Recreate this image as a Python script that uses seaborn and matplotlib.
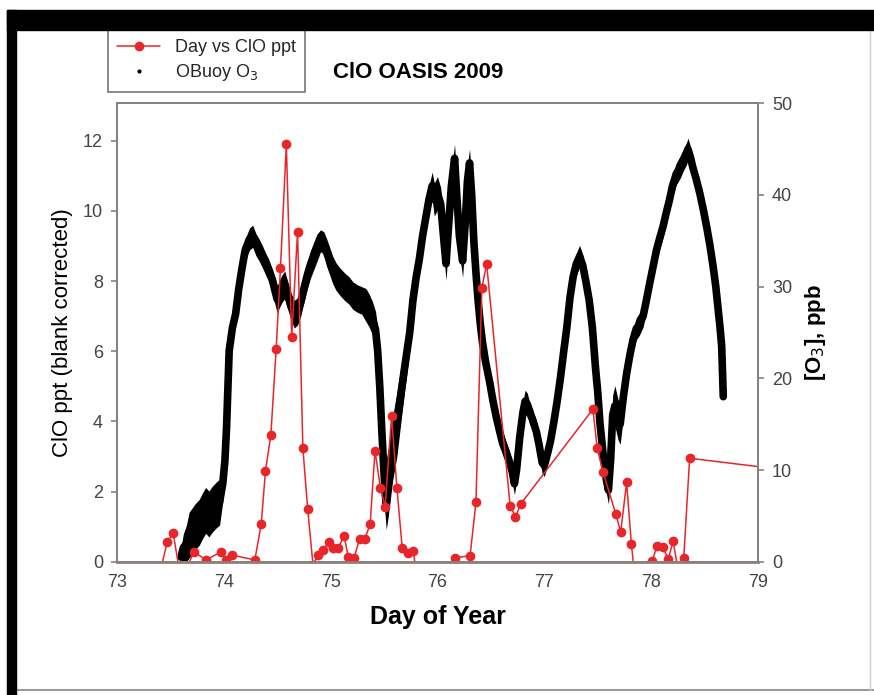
import matplotlib
matplotlib.use("Agg")
import matplotlib.pyplot as plt
from matplotlib.lines import Line2D
from matplotlib.patches import Rectangle
import seaborn as sns
import pandas as pd

# ---- ClO (red) series: day of year, ppt (blank corrected) ----
clo_day = [73.41, 73.47, 73.525, 73.60, 73.72, 73.83, 73.97, 74.02, 74.075, 74.29,
           74.35, 74.39, 74.44, 74.49, 74.53, 74.585, 74.635, 74.69, 74.74, 74.785,
           74.835, 74.88, 74.925, 74.98, 75.02, 75.07, 75.125, 75.165, 75.22, 75.27,
           75.32, 75.37, 75.415, 75.465, 75.51, 75.57, 75.62, 75.67, 75.72, 75.775,
           75.90, 76.16, 76.305, 76.36, 76.415, 76.46, 76.68, 76.73, 76.78, 77.455,
           77.495, 77.55, 77.67, 77.715, 77.77, 77.815, 77.90, 78.01, 78.055, 78.11,
           78.16, 78.205, 78.25, 78.305, 78.36, 79.30]
clo_ppt = [-0.2, 0.55, 0.83, -0.55, 0.29, 0.05, 0.27, 0.05, 0.19, 0.05,
           1.07, 2.60, 3.61, 6.07, 8.37, 11.9, 6.40, 9.40, 3.23, 1.50,
           -0.1, 0.19, 0.33, 0.55, 0.38, 0.38, 0.74, 0.14, 0.11, 0.65,
           0.65, 1.08, 3.17, 2.11, 1.57, 4.16, 2.11, 0.38, 0.24, 0.31,
           -3.0, 0.11, 0.17, 1.69, 7.80, 8.49, 1.59, 1.28, 1.65, 4.35,
           3.23, 2.55, 1.35, 0.84, 2.26, 0.50, -2.0, 0.02, 0.45, 0.41,
           0.07, 0.59, -0.2, 0.11, 2.95, 2.60]

# ---- OBuoy O3 (black) series: day of year, ppb, and half-width of the scatter band ----
o3_day = [73.60, 73.62, 73.65, 73.675, 73.70, 73.73, 73.77, 73.80, 73.83, 73.86,
          73.89, 73.93, 73.96, 73.99, 74.01, 74.025, 74.035, 74.05, 74.08, 74.11,
          74.14, 74.17, 74.20, 74.24, 74.27, 74.30, 74.33, 74.36, 74.39, 74.42,
          74.455, 74.48, 74.50, 74.52, 74.545, 74.57, 74.60, 74.63, 74.66, 74.69,
          74.72, 74.75, 74.78, 74.81, 74.84, 74.87, 74.905, 74.935, 74.96, 74.99,
          75.02, 75.05, 75.09, 75.13, 75.17, 75.21, 75.25, 75.29, 75.33, 75.36,
          75.39, 75.42, 75.44, 75.46, 75.48, 75.50, 75.52, 75.54, 75.56, 75.59,
          75.62, 75.66, 75.70, 75.74, 75.77, 75.80, 75.83, 75.86, 75.89, 75.92,
          75.95, 75.97, 76.00, 76.03, 76.06, 76.08, 76.10, 76.13, 76.16, 76.18,
          76.205, 76.235, 76.26, 76.28, 76.30, 76.32, 76.34, 76.36, 76.38, 76.40,
          76.42, 76.45, 76.49, 76.52, 76.55, 76.58, 76.61, 76.64, 76.67, 76.70,
          76.72, 76.74, 76.77, 76.80, 76.82, 76.84, 76.86, 76.89, 76.925, 76.95,
          76.98, 77.00, 77.03, 77.06, 77.09, 77.12, 77.15, 77.18, 77.21, 77.24,
          77.27, 77.30, 77.33, 77.36, 77.39, 77.42, 77.45, 77.48, 77.50, 77.52,
          77.55, 77.58, 77.60, 77.62, 77.64, 77.66, 77.69, 77.71, 77.74, 77.77,
          77.80, 77.83, 77.86, 77.89, 77.925, 77.955, 77.985, 78.02, 78.05, 78.08,
          78.11, 78.14, 78.17, 78.20, 78.235, 78.27, 78.30, 78.33, 78.345, 78.37,
          78.39, 78.42, 78.455, 78.49, 78.52, 78.55, 78.58, 78.605, 78.625, 78.645,
          78.66, 78.675]
o3_ppb = [0.5, 1.5, 2.0, 2.9, 3.3, 3.8, 4.3, 5.0, 5.6, 5.2,
          5.7, 6.2, 6.5, 8.5, 11.0, 14.5, 18.0, 23.0, 25.5, 27.0,
          29.8, 32.0, 34.0, 35.2, 35.5, 34.6, 34.0, 33.3, 32.5, 31.8,
          30.7, 29.5, 28.6, 29.2, 29.8, 30.2, 29.0, 27.8, 27.0, 27.3,
          28.3, 29.8, 31.2, 32.4, 33.3, 34.2, 35.0, 34.8, 33.8, 32.8,
          31.8, 31.1, 30.5, 30.0, 29.6, 29.0, 28.7, 28.5, 28.0, 27.4,
          26.6, 25.3, 23.0, 19.0, 14.0, 9.5, 6.0, 8.0, 11.0, 13.0,
          15.0, 18.5, 21.8, 25.0, 28.5, 31.0, 33.0, 35.5, 37.5, 39.5,
          41.0, 39.5, 40.2, 39.0, 35.0, 32.5, 36.0, 41.0, 44.0, 40.0,
          35.5, 32.8, 37.0, 41.5, 43.5, 40.0, 35.0, 31.5, 28.5, 26.0,
          24.0, 21.8, 19.5, 17.5, 15.8, 14.3, 12.9, 12.0, 11.0, 9.8,
          8.5, 10.0, 13.6, 16.3, 17.5, 17.2, 16.3, 15.5, 14.2, 12.8,
          10.8, 10.5, 11.8, 13.3, 15.3, 17.5, 20.0, 22.8, 25.5, 28.8,
          31.1, 32.5, 33.3, 32.3, 30.5, 28.5, 25.5, 21.0, 18.5, 15.2,
          11.8, 9.0, 7.8, 11.0, 16.0, 17.0, 15.5, 15.0, 18.0, 20.5,
          22.5, 24.2, 25.4, 25.9, 26.8, 28.5, 30.3, 32.3, 34.0, 35.3,
          36.5, 38.0, 39.4, 41.0, 42.3, 43.0, 43.8, 44.5, 45.0, 44.0,
          43.0, 41.8, 40.2, 38.3, 36.5, 34.5, 32.2, 30.0, 27.8, 25.5,
          23.5, 18.0]
o3_spread = [1.0, 1.5, 2.0, 2.5, 2.5, 2.5, 2.5, 2.5, 2.5, 2.5,
             2.5, 2.5, 2.5, 2.0, 1.5, 1.0, 1.0, 1.0, 1.0, 1.0,
             1.0, 1.0, 1.2, 1.2, 1.2, 1.2, 1.2, 1.2, 1.2, 1.2,
             1.2, 1.5, 1.5, 1.5, 1.5, 1.5, 1.5, 1.5, 1.5, 1.5,
             1.5, 1.5, 1.5, 1.5, 1.5, 1.5, 1.2, 1.2, 1.5, 1.5,
             1.5, 1.5, 1.5, 1.5, 1.5, 1.5, 1.5, 1.5, 1.8, 1.8,
             1.8, 2.0, 2.5, 3.0, 3.0, 3.0, 2.5, 3.0, 3.5, 3.5,
             3.5, 3.0, 2.5, 2.0, 1.5, 1.5, 1.5, 1.5, 1.5, 1.5,
             1.5, 1.8, 1.8, 1.8, 1.8, 1.8, 1.8, 1.8, 1.5, 1.8,
             1.8, 1.8, 1.8, 1.8, 1.5, 1.8, 1.8, 1.5, 1.2, 1.2,
             1.2, 1.2, 1.2, 1.2, 1.2, 1.2, 1.2, 1.2, 1.2, 1.2,
             1.2, 1.2, 1.2, 1.2, 1.2, 1.2, 1.2, 1.2, 1.2, 1.2,
             1.2, 1.2, 1.2, 1.2, 1.2, 1.2, 1.2, 1.2, 1.2, 1.2,
             1.2, 1.2, 1.2, 1.2, 1.2, 1.2, 1.2, 1.2, 1.5, 1.5,
             1.5, 1.5, 1.5, 2.2, 2.2, 2.2, 2.2, 2.2, 2.2, 1.8,
             1.5, 1.2, 1.2, 1.2, 1.2, 1.2, 1.2, 1.2, 1.2, 1.2,
             1.2, 1.2, 1.2, 1.2, 1.2, 1.2, 1.2, 1.2, 1.2, 1.2,
             1.2, 1.2, 1.2, 1.2, 1.2, 1.2, 1.2, 1.2, 1.2, 1.2,
             1.0, 0.6]

x_ticks = [73, 74, 75, 76, 77, 78, 79]
left_ticks = [0, 2, 4, 6, 8, 10, 12]
right_ticks = [0, 10, 20, 30, 40, 50]

clo_df = pd.DataFrame({"day": clo_day, "ppt": clo_ppt})
o3_df = pd.DataFrame({"day": o3_day, "ppb": o3_ppb, "spread": o3_spread})

sns.set_theme(style="white")
plt.rcParams["font.family"] = ["Liberation Sans", "DejaVu Sans"]

RED = "#e8262a"
SPINE = "#8a807c"
TXT = "#444444"

fig = plt.figure(figsize=(8.74, 6.95), dpi=100)
fig.patch.set_facecolor("white")
ax1 = fig.add_axes([117/874, 1-561.7/695, (758-117)/874, (561.7-103.3)/695])
ax2 = ax1.twinx()

# ozone on right axis: dense scatter band
ax2.fill_between(o3_df["day"], o3_df["ppb"] - o3_df["spread"], o3_df["ppb"] + o3_df["spread"],
                 color="black", linewidth=0)
sns.lineplot(data=o3_df, x="day", y="ppb", ax=ax2, color="black", linewidth=5.5,
             estimator=None, sort=False, legend=False)
ax2.set_ylim(0, 50)
ax2.set_yticks(right_ticks)

# ClO on left axis, drawn on top
sns.lineplot(data=clo_df, x="day", y="ppt", ax=ax1, color=RED, linewidth=1.1,
             marker="o", markersize=7, markeredgewidth=0, markerfacecolor=RED,
             estimator=None, sort=False, legend=False)
ax1.set_zorder(ax2.get_zorder() + 1)
ax1.patch.set_visible(False)
ax1.set_xlim(73, 79)
ax1.set_ylim(0, 13.07)
ax1.set_xticks(x_ticks)
ax1.set_yticks(left_ticks)

for ax in (ax1, ax2):
    for s in ax.spines.values():
        s.set_color(SPINE)
        s.set_linewidth(1.4)
    ax.tick_params(colors=TXT, labelsize=13, length=4, width=1.2, color=SPINE,
                   direction="out", pad=6)
    ax.grid(False)
ax1.tick_params(axis="x", pad=5)
ax1.spines["bottom"].set_linewidth(2.0)

ax1.set_xlabel("Day of Year", fontsize=18, fontweight="bold", color="black", labelpad=10)
ax1.set_ylabel("ClO ppt (blank corrected)", fontsize=16, color="black", labelpad=7)
ax2.set_ylabel("[O$_3$], ppb", fontsize=16, fontweight="bold", color="black", labelpad=8)

fig.text(418/874, 1-72/695, "ClO OASIS 2009", ha="center", va="center",
         fontsize=16, fontweight="bold", color="black")

handles = [Line2D([], [], color=RED, marker="o", markersize=7, linewidth=1.1,
                  markeredgewidth=0),
           Line2D([], [], color="black", marker="o", markersize=2, linestyle="none")]
leg = fig.legend(handles, ["Day vs ClO ppt", "OBuoy O$_3$"], loc="upper left",
                 bbox_to_anchor=(108/874, 1-30/695), bbox_transform=fig.transFigure,
                 borderaxespad=0, frameon=True, fancybox=False, fontsize=13,
                 handlelength=2.4, borderpad=0.5, labelspacing=0.35, handletextpad=0.8)
leg.get_frame().set_edgecolor("#555555")
leg.get_frame().set_linewidth(1.2)

# picture frame of the original screenshot
fig.patches.append(Rectangle((7/874, 0), 9/874, 1-10/695, transform=fig.transFigure,
                             color="black", zorder=10))
fig.patches.append(Rectangle((7/874, 1-30/695), 1, 20/695, transform=fig.transFigure,
                             color="black", zorder=10))
fig.add_artist(Line2D([16/874, 1], [5/695, 5/695], transform=fig.transFigure,
                      color="#9a9a9a", linewidth=1.5))
fig.add_artist(Line2D([870/874, 870/874], [5/695, 1-30/695], transform=fig.transFigure,
                      color="#d0d0d0", linewidth=1.0))

fig.savefig("out.png", dpi=100, facecolor="white")
